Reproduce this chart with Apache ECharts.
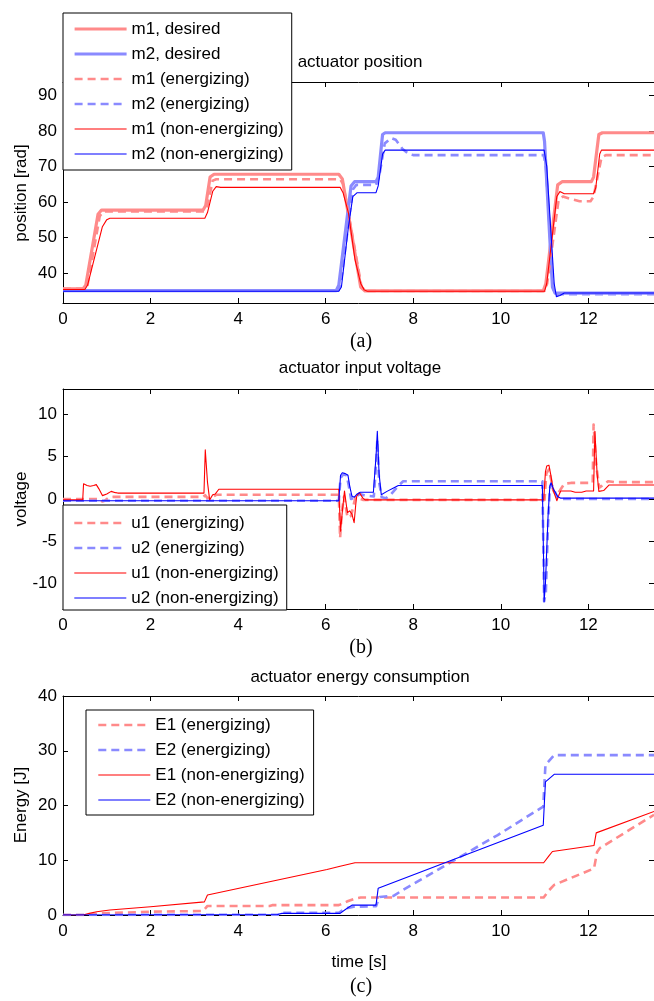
<!DOCTYPE html>
<html>
<head>
<meta charset="utf-8">
<script src="https://cdn.jsdelivr.net/npm/echarts@6/dist/echarts.min.js"></script>
<style>html,body{margin:0;padding:0;background:#fff;}#c{width:654px;height:1001px;}</style>
</head>
<body>
<div id="c"></div>
<script>
// ---------- data (time [s], value) ----------
const xTicks = [0, 2, 4, 6, 8, 10, 12];
const posTicks = [40, 50, 60, 70, 80, 90];
const voltTicks = [-10, -5, 0, 5, 10];
const energyTicks = [0, 10, 20, 30, 40];

const titles = ['actuator position', 'actuator input voltage', 'actuator energy consumption'];
const panelLabels = ['(a)', '(b)', '(c)'];
const yNames = ['position [rad]', 'voltage', 'Energy [J]'];
const xName = 'time [s]';

const posNames = ['m1, desired', 'm2, desired', 'm1 (energizing)', 'm2 (energizing)', 'm1 (non-energizing)', 'm2 (non-energizing)'];
const voltNames = ['u1 (energizing)', 'u2 (energizing)', 'u1 (non-energizing)', 'u2 (non-energizing)'];
const energyNames = ['E1 (energizing)', 'E2 (energizing)', 'E1 (non-energizing)', 'E2 (non-energizing)'];

const m1Desired = [[0,35.5],[0.46,35.5],[0.52,36.5],[0.8,56.5],[0.88,57.7],[3.2,57.7],[3.26,59],[3.36,67],[3.45,67.8],[6.3,67.8],[6.38,66.5],[6.8,36],[6.9,34.9],[10.97,34.9],[11.03,37],[11.3,64.8],[11.4,65.7],[12.07,65.7],[12.12,67],[12.24,79],[12.32,79.5],[13.5,79.5]];
const m2Desired = [[0,35.0],[6.24,35.0],[6.3,36.5],[6.58,64.5],[6.66,65.7],[7.15,65.7],[7.2,67],[7.3,79],[7.36,79.5],[10.97,79.5],[11.0,77],[11.18,36],[11.24,34.3],[13.5,34.3]];
const m1Energ = [[0,35.5],[0.5,35.5],[0.56,36.5],[0.84,56],[0.92,57.3],[3.22,57.3],[3.3,59],[3.42,66],[3.5,66.4],[6.33,66.4],[6.4,65],[6.82,36],[6.92,34.9],[11.0,34.9],[11.06,37],[11.32,60.5],[11.42,61.5],[11.6,60.8],[11.8,60.2],[12.05,60.2],[12.12,61.5],[12.3,72.5],[12.4,73.2],[13.5,73.2]];
const m2Energ = [[0,35.0],[6.28,35.0],[6.34,36.5],[6.62,63.5],[6.7,64.8],[7.15,64.8],[7.22,67],[7.35,76.5],[7.5,78.0],[7.6,77.5],[7.75,75],[7.9,73.5],[8.0,73.2],[10.98,73.2],[11.03,70],[11.2,35.5],[11.26,33.8],[11.4,34.0],[13.5,34.0]];
const m1NonEn = [[0,35.3],[0.5,35.3],[0.56,36.5],[0.9,53],[1.0,55],[1.07,55.4],[3.24,55.4],[3.3,57],[3.42,63],[3.5,64.3],[3.6,64.1],[6.33,64.1],[6.4,62.5],[6.52,56.9],[6.67,43.7],[6.8,37],[6.88,35.2],[6.95,34.8],[11.0,34.8],[11.05,37],[11.28,61.5],[11.35,62.9],[11.45,62.3],[12.12,62.3],[12.17,64],[12.26,73.5],[12.3,74.6],[13.5,74.6]];
const m2NonEn = [[0,34.8],[6.3,34.8],[6.36,36],[6.52,53],[6.62,61.5],[6.72,62.6],[7.15,62.6],[7.2,64.5],[7.3,73.5],[7.36,74.6],[10.99,74.6],[11.05,70],[11.22,37],[11.27,33.3],[11.35,33.6],[11.45,34.3],[13.5,34.3]];

const u1Energ = [[0,0],[0.85,0],[0.9,-0.3],[0.95,-0.2],[1.05,0.2],[1.15,0.25],[3.2,0.25],[3.25,0.45],[3.3,0.1],[3.4,0.2],[3.5,0.5],[6.3,0.5],[6.33,-4.6],[6.37,-1.5],[6.42,0.3],[6.5,-2.2],[6.58,-2.0],[6.68,0.2],[6.75,0.1],[6.85,-0.1],[11.0,-0.1],[11.04,3.0],[11.1,3.5],[11.2,1.0],[11.27,0.4],[11.35,1.0],[11.45,1.8],[11.6,1.9],[12.1,1.9],[12.12,8.8],[12.18,4],[12.25,1.35],[12.35,1.7],[12.45,2.1],[12.6,2.0],[13.5,2.0]];
const u2Energ = [[0,-0.2],[6.3,-0.2],[6.34,2.5],[6.4,2.9],[6.48,2.8],[6.53,1.5],[6.58,0.0],[6.62,-0.2],[6.7,0.3],[6.78,0.6],[6.9,0.4],[7.1,0.3],[7.15,4],[7.18,7.0],[7.22,2],[7.28,0.2],[7.38,0.1],[7.5,0.6],[7.65,1.5],[7.77,2.1],[10.95,2.1],[10.98,-8],[10.99,-12.1],[11.03,-11],[11.08,-3],[11.12,1.2],[11.15,1.8],[11.2,1.3],[11.3,0.1],[11.4,0.0],[13.5,0.0]];
const u1NonEn = [[0,-0.1],[0.45,-0.1],[0.47,1.8],[0.55,1.6],[0.62,1.5],[0.7,1.6],[0.76,1.7],[0.82,1.2],[0.9,0.4],[1.0,0.6],[1.1,0.9],[1.2,0.75],[1.25,0.7],[3.22,0.7],[3.25,5.8],[3.3,2],[3.35,-0.1],[3.42,0.5],[3.48,0.6],[3.56,1.15],[6.3,1.15],[6.34,-3.8],[6.38,-1.5],[6.43,0.95],[6.48,-1.0],[6.5,-1.6],[6.55,-1.4],[6.6,-1.8],[6.65,-2.8],[6.69,-0.5],[6.71,0.35],[6.77,0.75],[6.85,0.1],[6.9,-0.1],[10.98,-0.1],[11.02,3.2],[11.05,3.9],[11.1,4.0],[11.14,2.9],[11.2,1.0],[11.28,-0.2],[11.33,0.5],[11.37,0.95],[11.6,0.95],[11.7,0.8],[11.85,0.8],[11.95,0.95],[12.12,0.95],[12.15,8.0],[12.2,3],[12.24,0.9],[12.28,0.7],[12.35,1.0],[12.47,1.65],[13.5,1.65]];
const u2NonEn = [[0,-0.2],[6.3,-0.2],[6.34,2.8],[6.38,3.1],[6.45,3.0],[6.51,2.8],[6.55,1.5],[6.6,0.35],[6.65,0.2],[6.72,0.6],[6.79,0.8],[7.09,0.8],[7.15,5],[7.18,8.0],[7.22,3],[7.27,0.5],[7.4,0.9],[7.55,1.3],[7.66,1.6],[10.95,1.6],[10.98,-8],[10.99,-12.1],[11.02,-10],[11.08,-2],[11.12,1.5],[11.15,1.9],[11.2,1.2],[11.25,0.75],[11.3,0.3],[11.37,0.1],[13.5,0.1]];

const e1Energ = [[0,0],[0.5,0],[0.84,0.3],[2.0,0.6],[3.2,0.73],[3.3,1.65],[4.72,1.65],[4.78,1.8],[6.3,1.8],[6.5,2.5],[6.67,3.0],[6.8,3.2],[10.98,3.2],[11.1,4.5],[11.22,5.5],[12.13,8.5],[12.2,11.5],[12.26,12.2],[13.5,18.3]];
const e2Energ = [[0,0],[4.95,0.05],[5.0,0.4],[6.3,0.4],[6.45,1.2],[6.64,1.5],[7.15,1.6],[7.23,3.3],[7.55,3.5],[7.75,4.5],[8.87,9.7],[9.93,14.6],[10.97,19.8],[11.02,27.4],[11.22,29.2],[13.5,29.2]];
const e1NonEn = [[0,0],[0.46,0],[0.6,0.3],[0.77,0.6],[1.07,0.9],[2.0,1.5],[3.23,2.4],[3.3,3.65],[6.03,8.3],[6.33,8.9],[6.67,9.55],[10.98,9.55],[11.1,10.8],[11.18,11.6],[12.13,12.7],[12.18,15.0],[12.22,15.2],[13.5,18.9]];
const e2NonEn = [[0,0],[4.9,0.1],[5.0,0.3],[6.33,0.3],[6.45,1.0],[6.6,1.8],[7.15,1.8],[7.2,4.9],[10.97,16.4],[11.02,24.3],[11.22,25.7],[13.5,25.7]];

// ---------- styling ----------
const FONT = "'Liberation Sans', Arial, Helvetica, sans-serif";
const FS = 17;
const LRED = '#ff8a8a', LBLUE = '#8a8aff', RED = '#ff0000', BLUE = '#0000ff';
const grids = [
  {left: 63, top: 82, width: 594, height: 221},
  {left: 63, top: 389, width: 594, height: 220},
  {left: 63, top: 696, width: 594, height: 219}
];
const yRanges = [[31.5, 93.8], [-13, 13], [0, 40]];
const yTickSets = [posTicks, voltTicks, energyTicks];

const xAxes = [], yAxes = [];
grids.forEach((g, i) => {
  ['bottom', 'top'].forEach(pos => xAxes.push({
    type: 'value', gridIndex: i, position: pos, min: 0, max: 13.5,
    axisLine: {onZero: false, lineStyle: {color: '#000', width: 1}},
    axisTick: {inside: true, length: 5, customValues: xTicks, lineStyle: {color: '#000'}},
    axisLabel: {show: pos === 'bottom', customValues: xTicks, color: '#000', fontSize: FS, fontFamily: FONT, margin: 8},
    splitLine: {show: false}
  }));
  ['left', 'right'].forEach(pos => yAxes.push({
    type: 'value', gridIndex: i, position: pos, min: yRanges[i][0], max: yRanges[i][1],
    axisLine: {show: true, onZero: false, lineStyle: {color: '#000', width: 1}},
    axisTick: {show: true, inside: true, length: 5, customValues: yTickSets[i], lineStyle: {color: '#000'}},
    axisLabel: {show: pos === 'left', customValues: yTickSets[i], color: '#000', fontSize: FS, fontFamily: FONT, margin: 6},
    splitLine: {show: false}
  }));
});

function ser(name, data, gi, color, width, dashed) {
  return {
    name, type: 'line', data, xAxisIndex: gi * 2, yAxisIndex: gi * 2,
    showSymbol: false, symbol: 'none', animation: false, z: dashed ? 3 : (width > 2 ? 2 : 4),
    lineStyle: {color, width, type: dashed ? [8, 5] : 'solid', cap: 'butt', join: 'round'},
    itemStyle: {color, opacity: 0}
  };
}

const series = [
  ser(posNames[0], m1Desired, 0, LRED, 3.2, false),
  ser(posNames[1], m2Desired, 0, LBLUE, 3.2, false),
  ser(posNames[2], m1Energ, 0, LRED, 2.6, true),
  ser(posNames[3], m2Energ, 0, LBLUE, 2.6, true),
  ser(posNames[4], m1NonEn, 0, RED, 1.1, false),
  ser(posNames[5], m2NonEn, 0, BLUE, 1.1, false),
  ser(voltNames[0], u1Energ, 1, LRED, 2.6, true),
  ser(voltNames[1], u2Energ, 1, LBLUE, 2.6, true),
  ser(voltNames[2], u1NonEn, 1, RED, 1.1, false),
  ser(voltNames[3], u2NonEn, 1, BLUE, 1.1, false),
  ser(energyNames[0], e1Energ, 2, LRED, 2.6, true),
  ser(energyNames[1], e2Energ, 2, LBLUE, 2.6, true),
  ser(energyNames[2], e1NonEn, 2, RED, 1.1, false),
  ser(energyNames[3], e2NonEn, 2, BLUE, 1.1, false)
];

function legend(names, left, top, padding) {
  return {
    data: names, orient: 'vertical', left, top, padding,
    itemWidth: 52, itemHeight: 18, itemGap: 7, selectedMode: false,
    backgroundColor: '#fff', borderColor: '#000', borderWidth: 1, borderRadius: 0,
    textStyle: {color: '#000', fontSize: FS, fontFamily: FONT, lineHeight: 18},
    itemStyle: {opacity: 0, borderWidth: 0},
    lineStyle: {width: 'inherit', opacity: 1}, z: 10
  };
}

const graphics = [];
function txt(text, x, y, opts) {
  graphics.push(Object.assign({
    type: 'text', x, y, z: 20,
    style: Object.assign({text, fill: '#000', font: FS + 'px ' + FONT, textAlign: 'center', textVerticalAlign: 'middle'}, opts || {})
  }));
}
txt(titles[0], 360, 62);
txt(titles[1], 360, 368);
txt(titles[2], 360, 677);
const serif = "20px 'Liberation Serif', 'Times New Roman', serif";
txt(panelLabels[0], 361, 342, {font: serif});
txt(panelLabels[1], 361, 648, {font: serif});
txt(panelLabels[2], 361, 987, {font: serif});
txt(xName, 359, 962);
[[21, 193], [21, 499], [21, 805]].forEach((p, i) => {
  graphics.push({type: 'text', x: p[0], y: p[1], rotation: Math.PI / 2, z: 20,
    style: {text: yNames[i], fill: '#000', font: FS + 'px ' + FONT, textAlign: 'center', textVerticalAlign: 'middle'}});
});

const chart = echarts.init(document.getElementById('c'), null, {renderer: 'canvas'});
chart.setOption({
  animation: false,
  backgroundColor: '#fff',
  grid: grids.map(g => Object.assign({containLabel: false}, g)),
  xAxis: xAxes,
  yAxis: yAxes,
  legend: [
    legend(posNames, 63, 13, [7, 8, 7, 10]),
    legend(voltNames, 63, 505, [9, 8, 3, 10]),
    legend(energyNames, 86, 710, [6, 9, 6, 11])
  ],
  graphic: graphics,
  series
});
</script>
</body>
</html>
